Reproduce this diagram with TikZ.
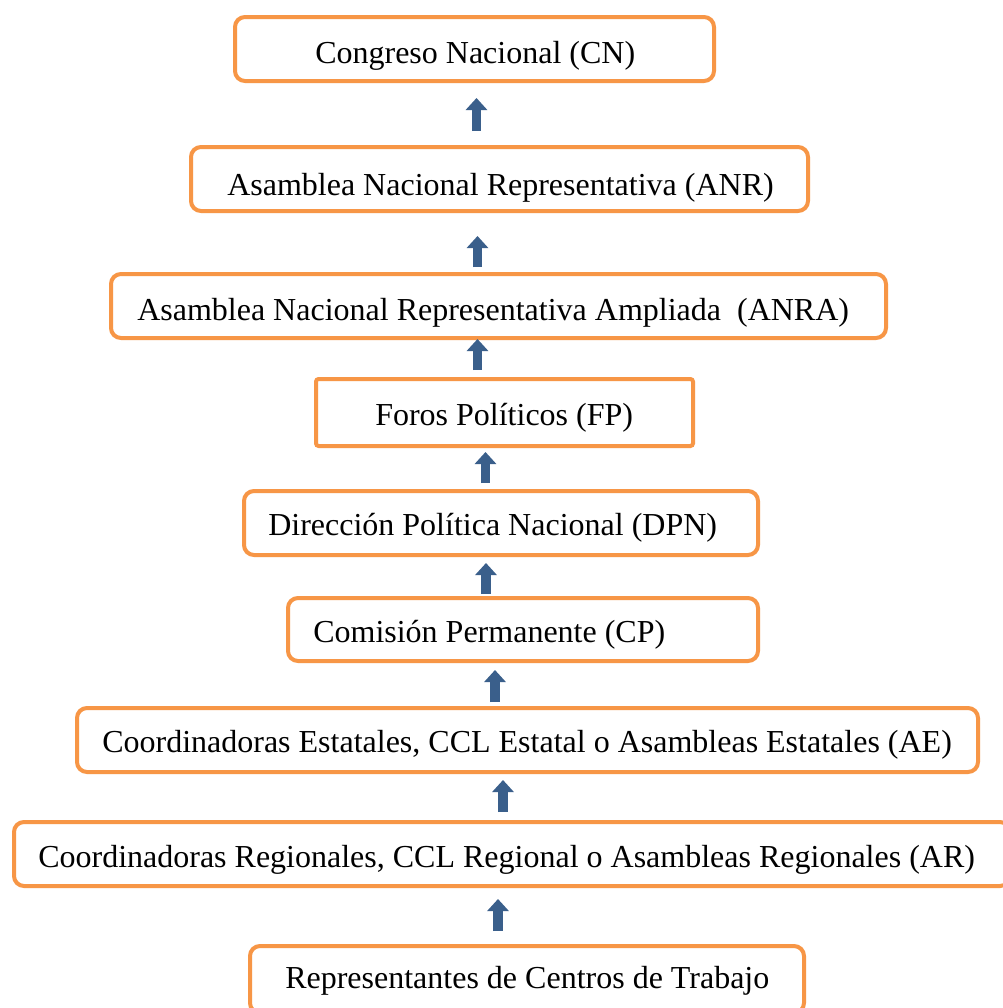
\documentclass[tikz,border=0pt]{standalone}
\usepackage{fontspec}
\setmainfont{Liberation Serif}
\usetikzlibrary{calc,arrows.meta}
\definecolor{boxorange}{HTML}{F79646}
\definecolor{arrowblue}{HTML}{3A5F8B}
\begin{document}
\begin{tikzpicture}[x=0.75pt,y=-0.75pt,
  orgbox/.style={rectangle,draw=boxorange,line width=3pt,rounded corners=7.5pt,inner sep=0pt,minimum height=48pt},
  lbl/.style={anchor=base west,inner sep=0pt,font=\fontsize{24pt}{29pt}\selectfont},
  blk/.style={draw=arrowblue,line width=7.125pt,-{Triangle[width=15.75pt,length=9pt]}}]
\useasboundingbox (0,0) rectangle (1003,1008);
\clip (0,0) rectangle (1003,1008);
\fill[white] (0,0) rectangle (1003,1008);
% boxes
\node[orgbox,minimum width=359.25pt] (cn) at (474.5,49) {};
\node[orgbox,minimum width=462.75pt] (anr) at (499.5,179) {};
\node[orgbox,minimum width=581.25pt] (anra) at (498.5,306) {};
\node[orgbox,minimum width=282.75pt,minimum height=50.25pt,rounded corners=2pt] (fp) at (504.5,412.5) {};
\node[orgbox,minimum width=385.5pt] (dpn) at (501,523) {};
\node[orgbox,minimum width=352.5pt,minimum height=47.25pt] (cp) at (523,629.5) {};
\node[orgbox,minimum width=675.75pt] (ae) at (527.5,740) {};
\node[orgbox,minimum width=747pt] (ar) at (512,854) {};
\node[orgbox,minimum width=415.5pt,minimum height=50.25pt] (rct) at (527,979.5) {};
% labels
\node[lbl] (tcn) at (315,63) {Congreso Nacional (CN)};
\node[lbl] (tanr) at (227,195) {Asamblea Nacional Representativa (ANR)};
\node[lbl] (tanra) at (137,320) {Asamblea Nacional Representativa Ampliada\ \ (ANRA)};
\node[lbl] (tfp) at (375,425) {Foros Políticos (FP)};
\node[lbl] (tdpn) at (268,535) {Dirección Política Nacional (DPN)};
\node[lbl] (tcp) at (313,642) {Comisión Permanente (CP)};
\node[lbl] (tae) at (102,752) {Coordinadoras Estatales, CCL Estatal o Asambleas Estatales (AE)};
\node[lbl] (tar) at (38,867) {Coordinadoras Regionales, CCL Regional o Asambleas Regionales (AR)};
\node[lbl] (trct) at (285,988) {Representantes de Centros de Trabajo};
% arrows
\draw[blk] ($(anr.north)+(-23,-14)$) -- ($(cn.south)+(2,15)$);
\draw[blk] ($(anra.north)+(-21,-5)$) -- ($(anr.south)+(-22,23)$);
\draw[blk] ($(fp.north)+(-27,-7)$) -- ($(anra.south)+(-21,-1)$);
\draw[blk] ($(dpn.north)+(-15.5,-6)$) -- ($(fp.south)+(-19,4)$);
\draw[blk] ($(cp.north)+(-37,-2)$) -- ($(dpn.south)+(-15,6)$);
\draw[blk] ($(ae.north)+(-32.5,-4)$) -- ($(cp.south)+(-28,7)$);
\draw[blk] ($(ar.north)+(-9,-8)$) -- ($(ae.south)+(-24.5,6)$);
\draw[blk] ($(rct.north)+(-29,-13)$) -- ($(ar.south)+(-14,11)$);
\end{tikzpicture}
\end{document}
